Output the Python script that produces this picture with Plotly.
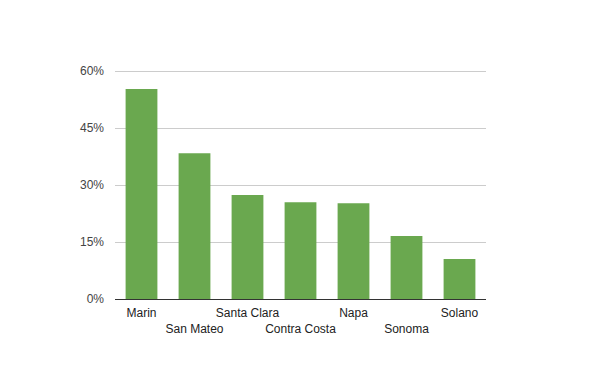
import plotly.graph_objects as go

categories = ["Marin", "San Mateo", "Santa Clara", "Contra Costa", "Napa", "Sonoma", "Solano"]
values = [55.3, 38.4, 27.4, 25.5, 25.2, 16.6, 10.5]
y_ticks = [0, 15, 30, 45, 60]
y_tick_labels = ["0%", "15%", "30%", "45%", "60%"]

ticktext = [c if i % 2 == 0 else "<br>" + c for i, c in enumerate(categories)]

fig = go.Figure(go.Bar(x=categories, y=values, marker_color="#6aa84f", width=0.6,
                       marker_line_width=0))
fig.update_layout(
    width=600, height=371,
    margin=dict(l=107, r=122, t=62, b=80, autoexpand=False),
    paper_bgcolor="white", plot_bgcolor="white",
    font=dict(family="Liberation Sans, Arial, sans-serif", size=12, color="#444444"),
    showlegend=False,
)
fig.update_xaxes(tickvals=categories, ticktext=ticktext, showgrid=False, ticks="",
                 tickangle=0, automargin=False, ticklabelstandoff=3,
                 showline=True, linecolor="#333333", linewidth=1,
                 tickfont=dict(color="#222222"))
fig.update_yaxes(range=[0, 60.3], tickvals=y_ticks, ticktext=y_tick_labels,
                 showgrid=True, gridcolor="#cccccc", gridwidth=1, zeroline=False,
                 automargin=False,
                 ticks="", ticklabelstandoff=10, tickfont=dict(color="#444444"))
fig.write_html("out.html")
